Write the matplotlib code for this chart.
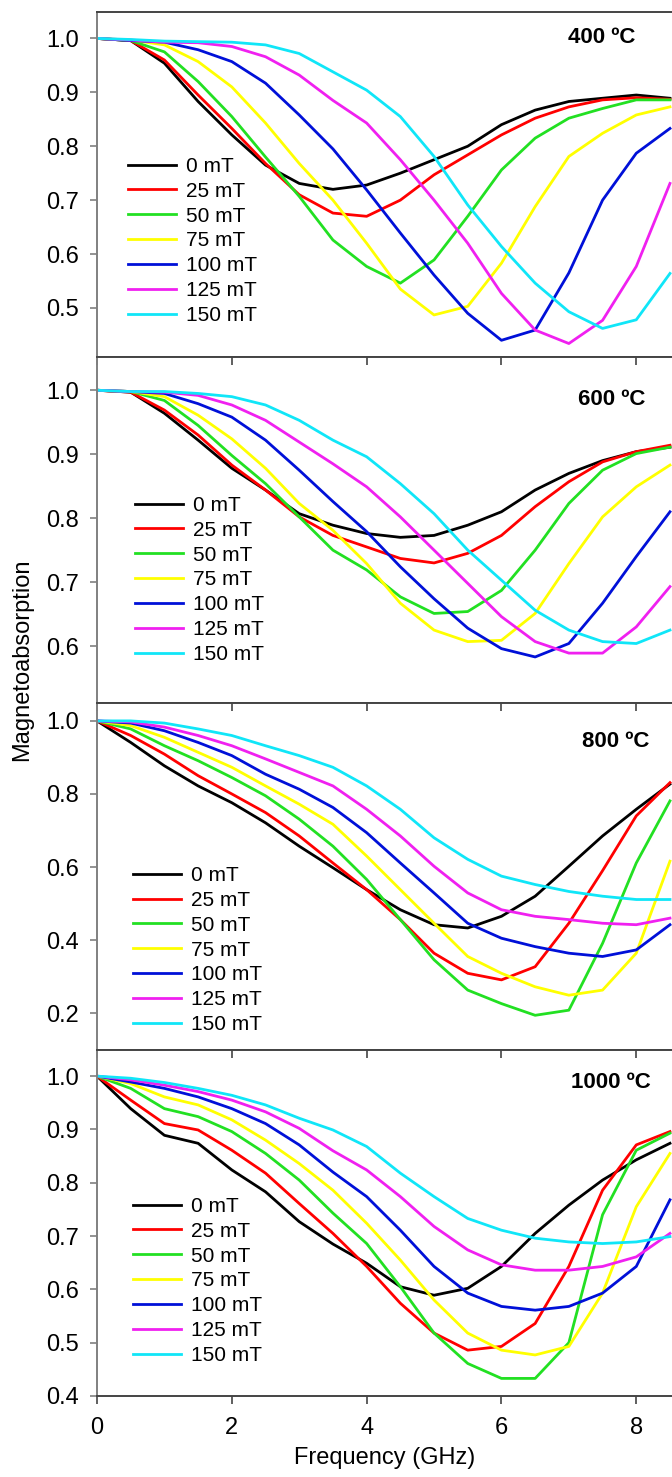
import matplotlib
matplotlib.use('Agg')
import matplotlib.pyplot as plt
from matplotlib.ticker import FormatStrFormatter, MultipleLocator

plt.rcParams['font.family'] = ['Liberation Sans', 'DejaVu Sans']

# frequency grid (GHz) the curves were read at
FREQ = [0.0, 0.5, 1.0, 1.5, 2.0, 2.5, 3.0, 3.5, 4.0, 4.5,
        5.0, 5.5, 6.0, 6.5, 7.0, 7.5, 8.0, 8.5]

FIELDS = ['0 mT', '25 mT', '50 mT', '75 mT', '100 mT', '125 mT', '150 mT']
COLORS = ['#000000', '#ff0000', '#22e022', '#ffff00', '#0010d8', '#f020f0', '#10e6f8']
TEMPS = ['400 ºC', '600 ºC', '800 ºC', '1000 ºC']

# magnetoabsorption, one list per field (0 ... 150 mT)
ABS_400 = [
    [1.0, 0.996, 0.954, 0.883, 0.821, 0.765, 0.731, 0.72, 0.728, 0.75, 0.775, 0.80, 0.84, 0.867, 0.883, 0.889, 0.895, 0.889],
    [1.0, 0.996, 0.96, 0.895, 0.833, 0.768, 0.71, 0.676, 0.67, 0.70, 0.747, 0.784, 0.821, 0.852, 0.873, 0.886, 0.89, 0.887],
    [1.0, 0.996, 0.975, 0.92, 0.855, 0.78, 0.707, 0.626, 0.577, 0.546, 0.589, 0.67, 0.756, 0.815, 0.852, 0.87, 0.886, 0.886],
    [1.0, 0.997, 0.988, 0.957, 0.91, 0.843, 0.768, 0.70, 0.62, 0.535, 0.487, 0.503, 0.583, 0.688, 0.781, 0.824, 0.858, 0.873],
    [1.0, 0.996, 0.993, 0.979, 0.957, 0.917, 0.858, 0.795, 0.719, 0.639, 0.561, 0.49, 0.44, 0.459, 0.565, 0.70, 0.787, 0.833],
    [1.0, 0.997, 0.993, 0.992, 0.985, 0.966, 0.932, 0.885, 0.843, 0.775, 0.70, 0.62, 0.527, 0.459, 0.434, 0.477, 0.577, 0.731],
    [1.0, 0.998, 0.995, 0.994, 0.993, 0.988, 0.972, 0.938, 0.904, 0.855, 0.781, 0.691, 0.614, 0.546, 0.493, 0.462, 0.478, 0.564],
]

ABS_600 = [
    [1.0, 0.997, 0.964, 0.922, 0.878, 0.844, 0.807, 0.789, 0.776, 0.77, 0.773, 0.789, 0.81, 0.844, 0.87, 0.89, 0.904, 0.911],
    [1.0, 0.997, 0.969, 0.93, 0.883, 0.844, 0.802, 0.773, 0.755, 0.737, 0.73, 0.745, 0.773, 0.818, 0.857, 0.888, 0.904, 0.914],
    [1.0, 0.998, 0.984, 0.945, 0.898, 0.854, 0.802, 0.75, 0.719, 0.677, 0.651, 0.654, 0.687, 0.75, 0.823, 0.875, 0.901, 0.911],
    [1.0, 0.998, 0.99, 0.961, 0.924, 0.878, 0.823, 0.781, 0.729, 0.667, 0.625, 0.607, 0.609, 0.651, 0.729, 0.802, 0.849, 0.883],
    [1.0, 0.998, 0.995, 0.979, 0.958, 0.922, 0.875, 0.826, 0.779, 0.724, 0.674, 0.628, 0.596, 0.583, 0.604, 0.667, 0.74, 0.81],
    [1.0, 0.998, 0.997, 0.992, 0.977, 0.953, 0.919, 0.885, 0.849, 0.802, 0.75, 0.698, 0.646, 0.607, 0.589, 0.589, 0.63, 0.693],
    [1.0, 0.998, 0.998, 0.995, 0.99, 0.977, 0.953, 0.922, 0.896, 0.854, 0.807, 0.75, 0.703, 0.656, 0.625, 0.607, 0.604, 0.625],
]

ABS_800 = [
    [1.0, 0.941, 0.877, 0.822, 0.776, 0.721, 0.657, 0.598, 0.538, 0.483, 0.442, 0.433, 0.465, 0.52, 0.602, 0.685, 0.758, 0.827],
    [1.0, 0.96, 0.909, 0.85, 0.80, 0.749, 0.685, 0.611, 0.538, 0.456, 0.364, 0.309, 0.291, 0.327, 0.446, 0.59, 0.74, 0.831],
    [1.0, 0.978, 0.932, 0.891, 0.845, 0.795, 0.731, 0.657, 0.566, 0.456, 0.346, 0.263, 0.226, 0.194, 0.208, 0.391, 0.611, 0.781],
    [1.0, 0.987, 0.955, 0.914, 0.873, 0.822, 0.772, 0.717, 0.63, 0.538, 0.446, 0.355, 0.309, 0.272, 0.249, 0.263, 0.364, 0.616],
    [1.0, 0.994, 0.973, 0.941, 0.905, 0.854, 0.813, 0.763, 0.694, 0.611, 0.529, 0.446, 0.405, 0.382, 0.364, 0.355, 0.373, 0.442],
    [1.0, 0.997, 0.983, 0.96, 0.932, 0.896, 0.859, 0.822, 0.758, 0.685, 0.602, 0.529, 0.483, 0.465, 0.456, 0.446, 0.442, 0.46],
    [1.0, 1.0, 0.994, 0.978, 0.96, 0.932, 0.905, 0.873, 0.822, 0.758, 0.68, 0.621, 0.575, 0.552, 0.533, 0.52, 0.511, 0.511],
]

ABS_1000 = [
    [1.0, 0.939, 0.889, 0.874, 0.824, 0.783, 0.727, 0.685, 0.649, 0.605, 0.589, 0.602, 0.643, 0.705, 0.758, 0.805, 0.843, 0.874],
    [1.0, 0.955, 0.911, 0.899, 0.861, 0.818, 0.761, 0.705, 0.643, 0.574, 0.518, 0.486, 0.493, 0.536, 0.643, 0.786, 0.871, 0.896],
    [1.0, 0.977, 0.939, 0.924, 0.896, 0.855, 0.805, 0.743, 0.686, 0.605, 0.518, 0.461, 0.433, 0.433, 0.50, 0.74, 0.861, 0.893],
    [1.0, 0.986, 0.961, 0.946, 0.918, 0.88, 0.836, 0.786, 0.724, 0.655, 0.58, 0.518, 0.486, 0.477, 0.493, 0.593, 0.755, 0.855],
    [1.0, 0.989, 0.977, 0.961, 0.939, 0.911, 0.871, 0.82, 0.774, 0.711, 0.643, 0.593, 0.568, 0.561, 0.568, 0.593, 0.643, 0.768],
    [1.0, 0.993, 0.983, 0.971, 0.955, 0.933, 0.902, 0.86, 0.824, 0.774, 0.718, 0.674, 0.646, 0.636, 0.636, 0.643, 0.661, 0.705],
    [1.0, 0.996, 0.988, 0.977, 0.964, 0.946, 0.921, 0.899, 0.868, 0.818, 0.774, 0.733, 0.711, 0.696, 0.689, 0.686, 0.689, 0.699],
]

panels = [ABS_400, ABS_600, ABS_800, ABS_1000]

W, H = 672, 1477
fig = plt.figure(figsize=(W / 100, H / 100), dpi=100)

# panel layout in pixels (top, bottom)
panel_px = [(12, 357), (357, 703), (703, 1050), (1050, 1396)]
ylims = [(0.409, 1.049), (0.511, 1.052), (0.099, 1.049), (0.4, 1.049)]
ysteps = [0.1, 0.1, 0.2, 0.1]
legend_pos = [(0.054, 0.093), (0.066, 0.113), (0.063, 0.046), (0.063, 0.09)]
label_pos = [(0.936, 0.925), (0.953, 0.876), (0.96, 0.89), (0.963, 0.907)]

left = 97
for i, data in enumerate(panels):
    top, bot = panel_px[i]
    ax = fig.add_axes([left / W, 1 - bot / H, 1 - left / W, (bot - top) / H])
    for vals, col, lab in zip(data, COLORS, FIELDS):
        ax.plot(FREQ, vals, color=col, lw=2.0, label=lab)

    ax.set_xlim(0, 8.53)
    ax.set_ylim(*ylims[i])
    ax.yaxis.set_major_locator(MultipleLocator(ysteps[i]))
    ax.yaxis.set_major_formatter(FormatStrFormatter('%.1f'))
    ax.xaxis.set_major_locator(MultipleLocator(2))

    ax.spines['right'].set_visible(False)
    ax.spines['left'].set_color('#808080')
    for s in ['top', 'bottom']:
        ax.spines[s].set_color('#444444')
    for s in ax.spines.values():
        s.set_linewidth(1.4)

    ax.tick_params(axis='y', direction='out', length=5, width=1.2, color='#808080',
                   labelsize=17, pad=8)
    if i == 3:
        ax.tick_params(axis='x', which='major', bottom=True, top=False, direction='out',
                       length=6, width=1.2, color='#444444', labelsize=17, pad=9)
        ax.set_xlabel('Frequency (GHz)', fontsize=17, labelpad=6)
        # inward ticks on the top edge of the last panel
        sec = ax.secondary_xaxis('top')
        sec.xaxis.set_major_locator(MultipleLocator(2))
        sec.tick_params(direction='in', length=6, width=1.2, color='#444444',
                        labeltop=False)
        sec.spines['top'].set_visible(False)
    else:
        ax.tick_params(axis='x', bottom=False, labelbottom=False,
                       top=(i > 0), direction='in', length=6, width=1.2, color='#444444')

    ax.legend(loc='lower left', bbox_to_anchor=legend_pos[i], frameon=False,
              fontsize=15, handlelength=2.3, handletextpad=0.48, labelspacing=0.28,
              borderpad=0, borderaxespad=0)
    ax.text(label_pos[i][0], label_pos[i][1], TEMPS[i], transform=ax.transAxes,
            ha='right', va='center', fontsize=16, fontweight='bold')

fig.text(22 / W, 1 - 660 / H, 'Magnetoabsorption', rotation=90,
         ha='center', va='center', fontsize=17)

fig.savefig('out.png', dpi=100)
